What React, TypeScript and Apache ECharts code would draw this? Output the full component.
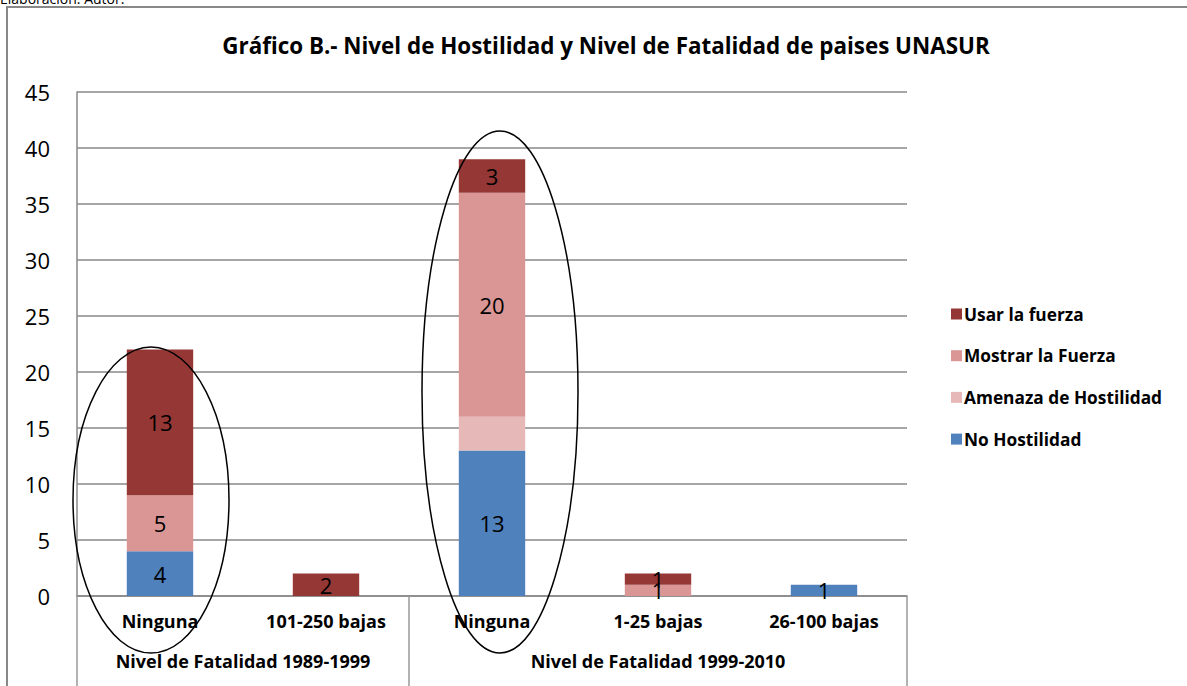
import React, { useEffect, useRef } from "react";
import * as echarts from "echarts";

const categories = ["Ninguna", "101-250 bajas", "Ninguna", "1-25 bajas", "26-100 bajas"];
const groupNames = ["Nivel de Fatalidad 1989-1999", "Nivel de Fatalidad 1999-2010"];
const groupSizes = [2, 3];
const seriesNames = ["No Hostilidad", "Amenaza de Hostilidad", "Mostrar la Fuerza", "Usar la fuerza"];
const noHostilidad = [4, 0, 13, 0, 1];
const amenaza = [0, 0, 3, 0, 0];
const mostrar = [5, 0, 20, 1, 0];
const usar = [13, 2, 3, 1, 0];
const yTicks = [0, 5, 10, 15, 20, 25, 30, 35, 40, 45];
const legendOrder = ["Usar la fuerza", "Mostrar la Fuerza", "Amenaza de Hostilidad", "No Hostilidad"];

const colors: Record<string, string> = {
  "No Hostilidad": "#4F81BD",
  "Amenaza de Hostilidad": "#E6B9B8",
  "Mostrar la Fuerza": "#D99694",
  "Usar la fuerza": "#953735",
};
const showLabels: Record<string, boolean> = {
  "No Hostilidad": true,
  "Amenaza de Hostilidad": false,
  "Mostrar la Fuerza": true,
  "Usar la fuerza": true,
};

const FONT = "'Open Sans', Lato, sans-serif";

export default function App() {
  const ref = useRef<HTMLDivElement>(null);
  useEffect(() => {
    document.body.style.margin = "0";
    if (!ref.current) return;
    const chart = echarts.init(ref.current, null, { renderer: "svg" });
    const values = [noHostilidad, amenaza, mostrar, usar];
    const total = groupSizes.reduce((a, b) => a + b, 0);
    const boundaries: number[] = [0];
    const centers: number[] = [];
    let acc = 0;
    groupSizes.forEach((s) => {
      centers.push(acc + s / 2);
      acc += s;
      boundaries.push(acc);
    });
    chart.setOption({
      animation: false,
      textStyle: { fontFamily: FONT },
      title: {
        text: "Gráfico B.- Nivel de Hostilidad y Nivel de Fatalidad de paises UNASUR",
        left: 601,
        textAlign: "center",
        top: 29,
        textStyle: { fontFamily: FONT, fontSize: 22.4, fontWeight: "bold", color: "#000" },
      },
      legend: {
        data: legendOrder,
        orient: "vertical",
        left: 946,
        top: 300,
        itemWidth: 11,
        itemHeight: 11,
        itemGap: 23.7,
        icon: "rect",
        textStyle: {
          fontFamily: FONT,
          fontSize: 17.3,
          lineHeight: 18,
          fontWeight: "bold",
          color: "#000",
          padding: [0, 0, 0, -3],
        },
      },
      grid: { left: 77, right: 280, top: 92, bottom: 90, containLabel: false },
      xAxis: [
        {
          type: "category",
          data: categories,
          axisLine: { show: true, lineStyle: { color: "#888", width: 1.5 } },
          axisTick: { show: false },
          axisLabel: { fontFamily: FONT, fontSize: 18, fontWeight: "bold", color: "#000", margin: 16 },
        },
        {
          type: "value",
          position: "bottom",
          min: 0,
          max: total,
          axisLine: { show: false },
          splitLine: { show: false },
          axisTick: {
            show: true,
            customValues: boundaries,
            length: 95,
            lineStyle: { color: "#999", width: 1.5 },
          },
          axisLabel: {
            customValues: centers,
            margin: 56,
            fontFamily: FONT,
            fontSize: 18,
            fontWeight: "bold",
            color: "#000",
            formatter: (v: number) => {
              const i = centers.findIndex((c) => Math.abs(c - v) < 1e-6);
              return i >= 0 ? groupNames[i] : "";
            },
          },
        },
      ],
      yAxis: {
        type: "value",
        min: 0,
        max: yTicks[yTicks.length - 1],
        interval: 5,
        axisLine: { show: true, lineStyle: { color: "#888", width: 1.5 } },
        axisTick: { show: false },
        splitLine: { lineStyle: { color: "#888", width: 1.5 } },
        axisLabel: { fontFamily: FONT, fontSize: 22, color: "#000", margin: 27 },
      },
      series: seriesNames.map((name, i) => ({
        name,
        type: "bar",
        stack: "total",
        xAxisIndex: 0,
        barWidth: "40%",
        data: values[i],
        itemStyle: { color: colors[name] },
        label: {
          show: showLabels[name],
          position: "inside",
          fontFamily: FONT,
          fontSize: 22,
          color: "#000",
          formatter: (p: any) => (p.value ? String(p.value) : ""),
        },
      })),
      graphic: [
        {
          type: "rect",
          shape: { x: 7, y: 7, width: 1300, height: 800 },
          style: { fill: "none", stroke: "#888", lineWidth: 2 },
          silent: true,
        },
        {
          type: "text",
          x: 0,
          y: -9,
          style: { text: "Elaboración: Autor.", font: "14px " + FONT, fill: "#000" },
          silent: true,
        },
        {
          type: "ellipse",
          shape: { cx: 151, cy: 500, rx: 78, ry: 153 },
          style: { fill: "none", stroke: "#000", lineWidth: 1.5 },
          z: 100,
          silent: true,
        },
        {
          type: "ellipse",
          shape: { cx: 500, cy: 392, rx: 78, ry: 261 },
          style: { fill: "none", stroke: "#000", lineWidth: 1.5 },
          z: 100,
          silent: true,
        },
      ],
    });
    return () => chart.dispose();
  }, []);
  return <div ref={ref} style={{ width: 1187, height: 686 }} />;
}
